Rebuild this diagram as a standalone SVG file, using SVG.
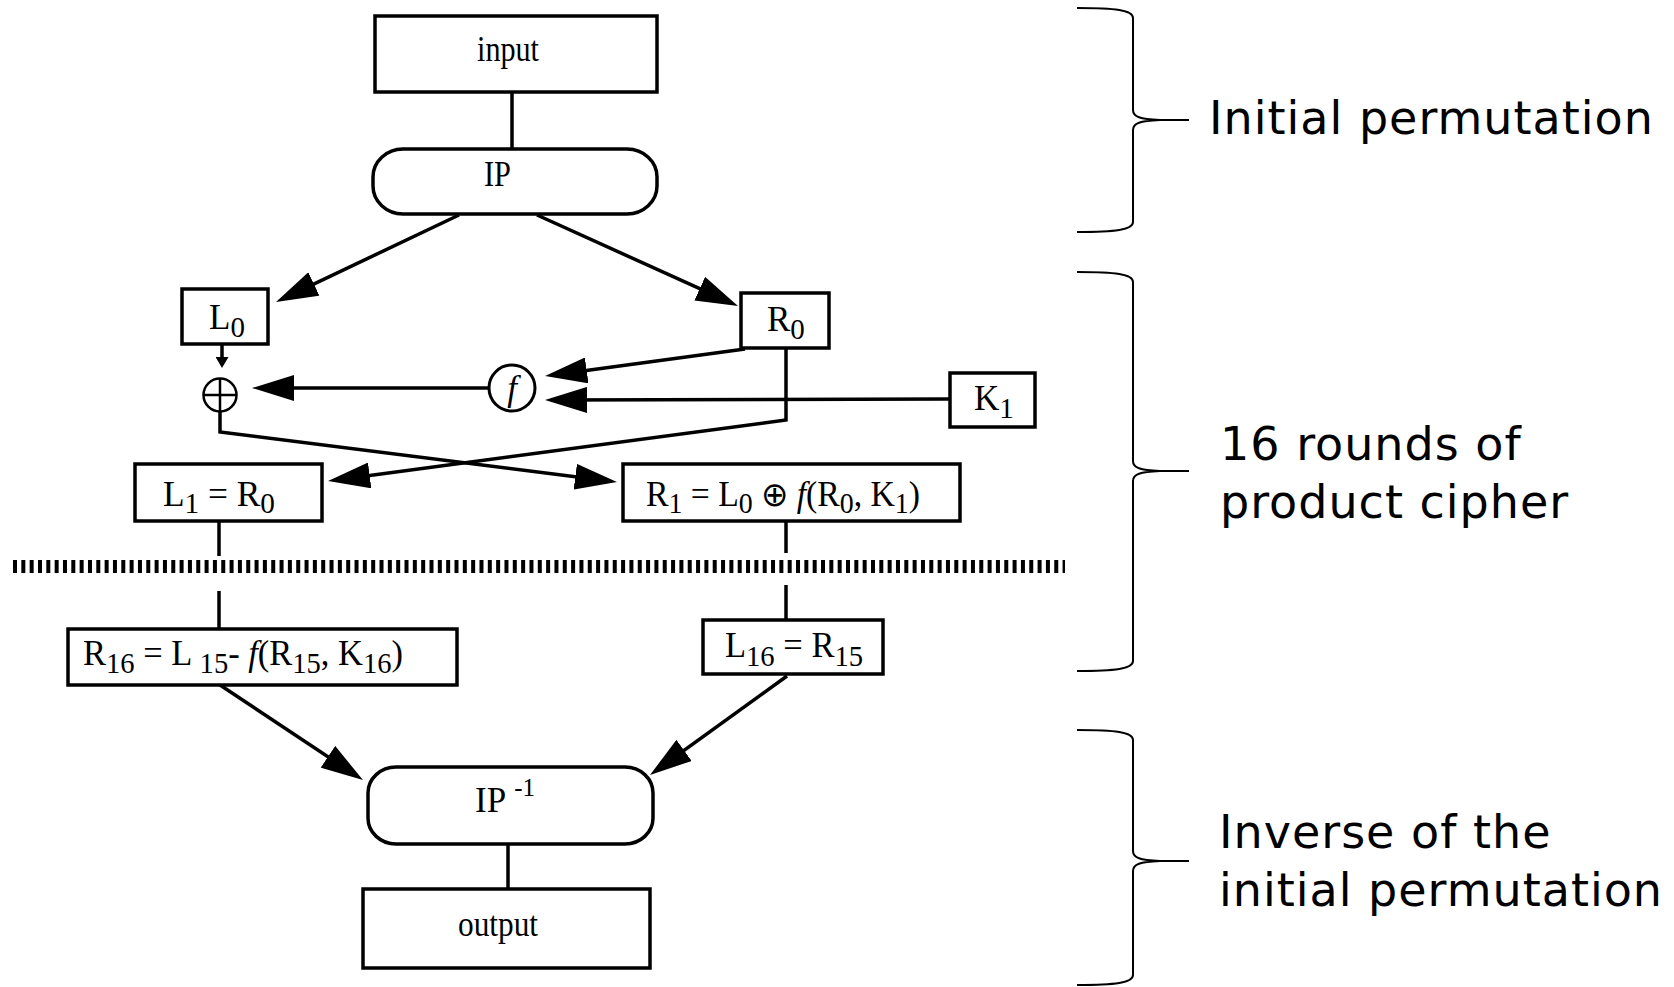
<svg xmlns="http://www.w3.org/2000/svg" width="1674" height="987" viewBox="0 0 1674 987">
  <style>
    .box { fill: #ffffff; stroke: #000000; stroke-width: 3.5; }
    .wire { fill: none; stroke: #000000; stroke-width: 3.5; }
    .arrow { fill: none; stroke: #000000; stroke-width: 3.5; marker-end: url(#head); }
    .serif { font-family: "Liberation Serif", "Times New Roman", serif; font-size: 35px; fill: #000000; }
    .sub { font-size: 29px; }
    .oplus { font-family: "DejaVu Sans", sans-serif; font-weight: 200; font-size: 34px; }
    .label { font-family: "DejaVu Sans", Verdana, sans-serif; font-size: 46px; letter-spacing: 1px; fill: #000000; }
    .brace { fill: none; stroke: #000000; stroke-width: 2; }
  </style>
  <defs>
    <marker id="head" markerUnits="userSpaceOnUse" viewBox="0 0 42 26" markerWidth="42" markerHeight="26" refX="34" refY="13" orient="auto">
      <path d="M0,0 L42,13 L0,26 Z" fill="#000000"/>
    </marker>
    <marker id="small" markerUnits="userSpaceOnUse" viewBox="0 0 11 13" markerWidth="11" markerHeight="13" refX="7" refY="6.5" orient="auto">
      <path d="M0,0 L11,6.5 L0,13 Z" fill="#000000"/>
    </marker>
  </defs>
  <rect width="1674" height="987" fill="#ffffff"/>

  <!-- connectors -->
  <g id="connectors">
    <line class="wire" x1="512" y1="92" x2="512" y2="149"/>
    <line class="arrow" x1="459" y1="215" x2="283.2" y2="298.6"/>
    <line class="arrow" x1="537" y1="215" x2="730.7" y2="302.7"/>
    <line class="wire" x1="222" y1="344" x2="222" y2="364" marker-end="url(#small)"/>
    <line class="arrow" x1="489" y1="388" x2="260" y2="388"/>
    <line class="arrow" x1="745" y1="349" x2="553" y2="374.9"/>
    <line class="arrow" x1="950" y1="399" x2="553" y2="400"/>
    <path class="arrow" d="M786,348 L786,420 L336,479.9"/>
    <path class="arrow" d="M220,411 L220,432 L609,481"/>
    <line class="wire" x1="219" y1="521" x2="219" y2="556"/>
    <line class="wire" x1="786" y1="521" x2="786" y2="553"/>
    <line x1="13" y1="566.5" x2="1065" y2="566.5" stroke="#000000" stroke-width="13" stroke-dasharray="4 4.33"/>
    <line class="wire" x1="219" y1="591" x2="219" y2="629"/>
    <line class="wire" x1="786" y1="585" x2="786" y2="620"/>
    <line class="arrow" x1="220" y1="685" x2="356.3" y2="775.6"/>
    <line class="arrow" x1="787" y1="676" x2="656.5" y2="770.3"/>
    <line class="wire" x1="508" y1="844" x2="508" y2="889"/>
  </g>

  <g id="input">
    <rect class="box" x="375" y="16" width="282" height="76"/>
    <text class="serif" x="477" y="61" textLength="62" lengthAdjust="spacingAndGlyphs">input</text>
  </g>

  <g id="ip">
    <rect class="box" x="373" y="149" width="284" height="65" rx="30" ry="28"/>
    <text class="serif" x="484" y="186" font-size="37" textLength="27" lengthAdjust="spacingAndGlyphs">IP</text>
  </g>

  <g id="l0">
    <rect class="box" x="182" y="289" width="86" height="55"/>
    <text class="serif" x="209" y="329">L<tspan class="sub" dy="8">0</tspan></text>
  </g>

  <g id="r0">
    <rect class="box" x="741" y="293" width="88" height="55"/>
    <text class="serif" x="767" y="331">R<tspan class="sub" dy="8">0</tspan></text>
  </g>

  <g id="xor">
    <ellipse cx="220" cy="395" rx="16.5" ry="16.5" fill="#ffffff" stroke="#000000" stroke-width="2.5"/>
    <line x1="203.5" y1="395" x2="236.5" y2="395" stroke="#000000" stroke-width="2.5"/>
    <line x1="220" y1="378.5" x2="220" y2="411.5" stroke="#000000" stroke-width="2.5"/>
  </g>

  <g id="f">
    <circle cx="512" cy="388" r="23" fill="#ffffff" stroke="#000000" stroke-width="3"/>
    <text class="serif" x="512" y="400" text-anchor="middle" font-style="italic" font-size="33">f</text>
  </g>

  <g id="k1">
    <rect class="box" x="950" y="373" width="85" height="54"/>
    <text class="serif" x="974" y="410">K<tspan class="sub" dy="8">1</tspan></text>
  </g>

  <g id="l1">
    <rect class="box" x="135" y="464" width="187" height="57"/>
    <text class="serif" x="163" y="506" textLength="112" lengthAdjust="spacingAndGlyphs">L<tspan class="sub" dy="7">1</tspan><tspan dy="-7"> = R</tspan><tspan class="sub" dy="7">0</tspan></text>
  </g>

  <g id="r1">
    <rect class="box" x="623" y="464" width="337" height="57"/>
    <text class="serif" x="646" y="506" textLength="274" lengthAdjust="spacingAndGlyphs">R<tspan class="sub" dy="7">1</tspan><tspan dy="-7"> = L</tspan><tspan class="sub" dy="7">0</tspan><tspan dy="-7"> </tspan><tspan class="oplus">⊕</tspan><tspan> </tspan><tspan font-style="italic">f</tspan>(R<tspan class="sub" dy="7">0</tspan><tspan dy="-7">, K</tspan><tspan class="sub" dy="7">1</tspan><tspan dy="-7">)</tspan></text>
  </g>

  <g id="r16">
    <rect class="box" x="68" y="629" width="389" height="56"/>
    <text class="serif" x="83" y="665" textLength="320" lengthAdjust="spacingAndGlyphs">R<tspan class="sub" dy="8">16</tspan><tspan dy="-8"> = L </tspan><tspan class="sub" dy="8">15</tspan><tspan dy="-8">-  </tspan><tspan font-style="italic">f</tspan>(R<tspan class="sub" dy="8">15</tspan><tspan dy="-8">, K</tspan><tspan class="sub" dy="8">16</tspan><tspan dy="-8">)</tspan></text>
  </g>

  <g id="l16">
    <rect class="box" x="703" y="620" width="180" height="54"/>
    <text class="serif" x="725" y="657" textLength="138" lengthAdjust="spacingAndGlyphs">L<tspan class="sub" dy="9">16</tspan><tspan dy="-9"> = R</tspan><tspan class="sub" dy="9">15</tspan></text>
  </g>

  <g id="ip-inverse">
    <rect class="box" x="368" y="767" width="285" height="77" rx="28" ry="26"/>
    <text class="serif" x="475" y="812" font-size="37">IP<tspan font-size="25" dx="8" dy="-16">-1</tspan></text>
  </g>

  <g id="output">
    <rect class="box" x="363" y="889" width="287" height="79"/>
    <text class="serif" x="458" y="936" textLength="80" lengthAdjust="spacingAndGlyphs">output</text>
  </g>

  <!-- stage braces and captions -->
  <g id="stage-initial">
    <path class="brace" d="M1077,8 C1115,8 1133,10 1133,18 L1133,110 C1133,117 1140,119 1160,120 L1189,120 M1160,120 C1140,121 1133,123 1133,130 L1133,222 C1133,230 1115,232 1077,232"/>
    <text class="label" x="1209" y="134">Initial permutation</text>
  </g>

  <g id="stage-rounds">
    <path class="brace" d="M1077,272 C1115,272 1133,274 1133,282 L1133,461 C1133,468 1140,470 1160,471 L1189,471 M1160,471 C1140,472 1133,474 1133,481 L1133,661 C1133,669 1115,671 1077,671"/>
    <text class="label" x="1220" y="460">16 rounds of</text>
    <text class="label" x="1220" y="518">product cipher</text>
  </g>

  <g id="stage-inverse">
    <path class="brace" d="M1077,730 C1115,730 1133,732 1133,740 L1133,851 C1133,858 1140,860 1160,861 L1189,861 M1160,861 C1140,862 1133,864 1133,871 L1133,975 C1133,983 1115,985 1077,985"/>
    <text class="label" x="1219" y="848">Inverse of the</text>
    <text class="label" x="1219" y="906">initial permutation</text>
  </g>
</svg>
